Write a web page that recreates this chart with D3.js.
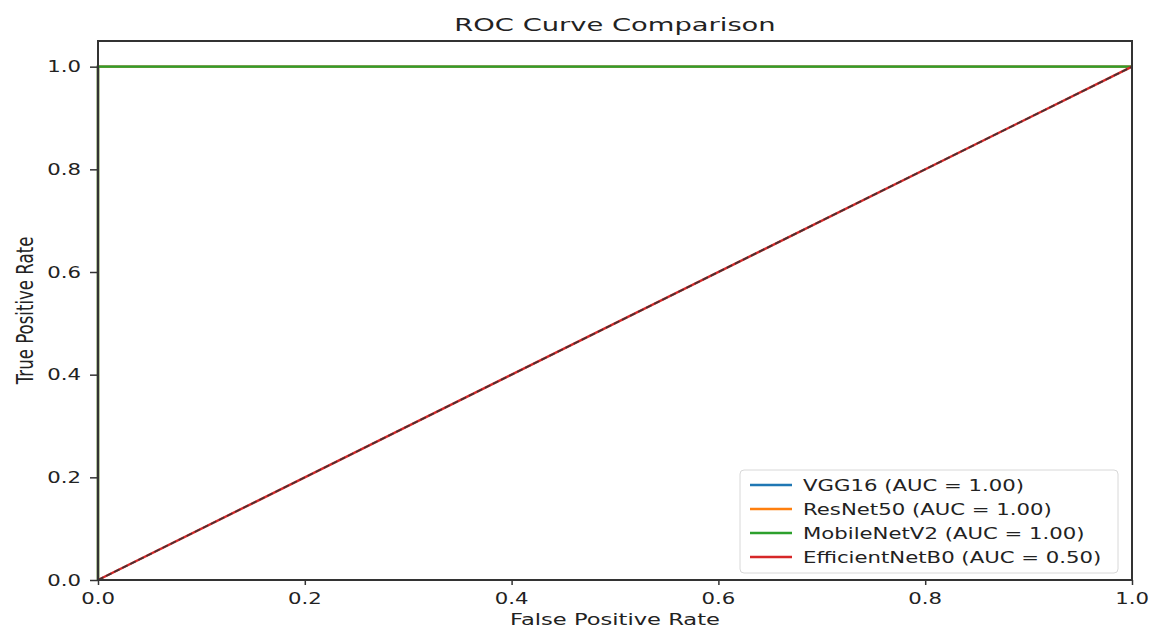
<!DOCTYPE html>
<html>
<head>
<meta charset="utf-8">
<script src="https://cdn.jsdelivr.net/npm/d3@7"></script>
<style>
  body { margin: 0; background: #fff; }
  text { font-family: "DejaVu Sans", sans-serif; fill: #222; }
</style>
</head>
<body>
<div id="chart"></div>
<script>
// model names and AUC values from the legend
const models = ["VGG16", "ResNet50", "MobileNetV2", "EfficientNetB0"];
const aucs = [1.00, 1.00, 1.00, 0.50];
const colors = ["#1f77b4", "#ff7f0e", "#2ca02c", "#d62728"];

// roc points for each model
const fprs = [
  [0, 0, 1],
  [0, 0, 1],
  [0, 0, 1],
  [0, 1]
];
const tprs = [
  [0, 1, 1],
  [0, 1, 1],
  [0, 1, 1],
  [0, 1]
];

// chance line
const chanceX = [0, 1];
const chanceY = [0, 1];

const xTicks = [0, 0.2, 0.4, 0.6, 0.8, 1.0];
const yTicks = [0, 0.2, 0.4, 0.6, 0.8, 1.0];

var width = 1151,
    height = 629,
    plotL = 98, plotR = 1132, plotT = 41, plotB = 580,
    stretch = 1.37;   // the picture is wider than tall, so text is stretched

const svg = d3.select("#chart").append("svg")
  .attr("width", width)
  .attr("height", height);

const x = d3.scaleLinear().domain([0, 1]).range([plotL, plotR]);
const y = d3.scaleLinear().domain([0, 1.05]).range([plotB, plotT]);

// helper: stretched text at anchor point
function label(px, py, str, size, anchor, sx, rot) {
  const g = svg.append("g")
    .attr("transform", "translate(" + px + "," + py + ")" + (rot ? " rotate(" + rot + ") scale(1," + sx + ")" : " scale(" + sx + ",1)"));
  g.append("text")
    .attr("text-anchor", anchor)
    .attr("font-size", size)
    .text(str);
  return g;
}

// lines
const line = d3.line().x(d => x(d[0])).y(d => y(d[1]));
const plot = svg.append("g");

models.forEach((m, i) => {
  const pts = fprs[i].map((v, j) => [v, tprs[i][j]]);
  plot.append("path")
    .attr("d", line(pts))
    .attr("fill", "none")
    .attr("stroke", colors[i])
    .attr("stroke-width", 2.4);
});

plot.append("path")
  .attr("d", line(chanceX.map((v, j) => [v, chanceY[j]])))
  .attr("fill", "none")
  .attr("stroke", "#333")
  .attr("stroke-width", 1.8)
  .attr("stroke-dasharray", "6,3")
  .attr("opacity", 0.85);

// axes ticks
svg.append("g")
  .attr("transform", "translate(0," + plotB + ")")
  .call(d3.axisBottom(x).tickValues(xTicks).tickSize(5).tickFormat(""))
  .call(g => g.select(".domain").remove())
  .selectAll("line").attr("stroke", "#333").attr("stroke-width", 1.5);

svg.append("g")
  .attr("transform", "translate(" + plotL + ",0)")
  .call(d3.axisLeft(y).tickValues(yTicks).tickSize(8).tickFormat(""))
  .call(g => g.select(".domain").remove())
  .selectAll("line").attr("stroke", "#333").attr("stroke-width", 1.5);

xTicks.forEach(t => label(x(t), 604, d3.format(".1f")(t), 15.5, "middle", stretch));
yTicks.forEach(t => label(81, y(t) + 5.6, d3.format(".1f")(t), 15.5, "end", stretch));

// frame
svg.append("rect")
  .attr("x", plotL).attr("y", plotT)
  .attr("width", plotR - plotL).attr("height", plotB - plotT)
  .attr("fill", "none")
  .attr("stroke", "#333")
  .attr("stroke-width", 2);

// titles
label((plotL + plotR) / 2, 31, "ROC Curve Comparison", 18, "middle", 1.52);
label((plotL + plotR) / 2, 625, "False Positive Rate", 16.5, "middle", stretch);
label(33, (plotT + plotB) / 2, "True Positive Rate", 16.6, "middle", stretch, -90);

// legend
const legend = svg.append("g");
legend.append("rect")
  .attr("x", 740).attr("y", 470)
  .attr("width", 378).attr("height", 103)
  .attr("rx", 4)
  .attr("fill", "#fff").attr("fill-opacity", 0.8)
  .attr("stroke", "#d8d8d8");

models.forEach((m, i) => {
  const ry = 485 + i * 24;
  legend.append("line")
    .attr("x1", 750).attr("x2", 792)
    .attr("y1", ry).attr("y2", ry)
    .attr("stroke", colors[i])
    .attr("stroke-width", 2.4);
  label(803, ry + 5.6, m + " (AUC = " + aucs[i].toFixed(2) + ")", 15.5, "start", stretch);
});
</script>
</body>
</html>
